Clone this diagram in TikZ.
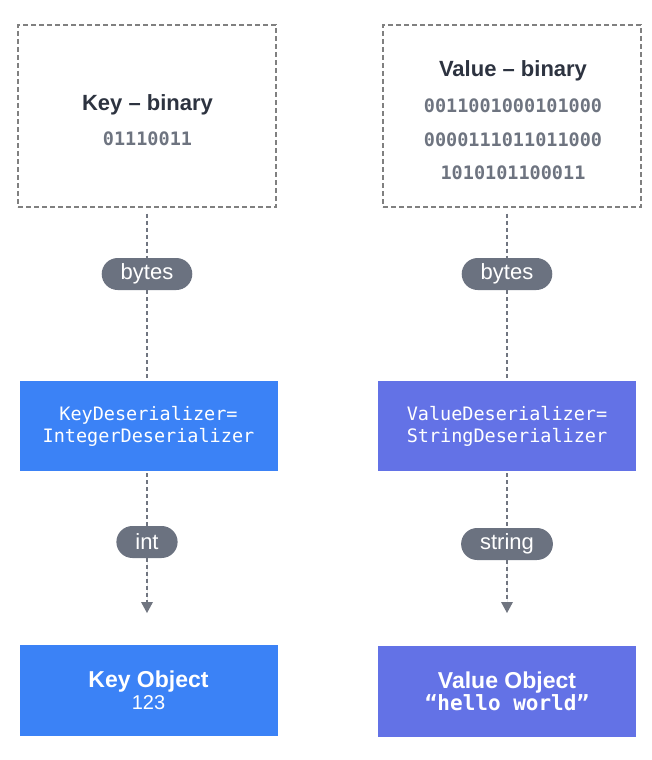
\documentclass[tikz,border=0pt]{standalone}
\usepackage{fontspec}
\setmainfont{Liberation Sans}
\setmonofont{DejaVu Sans Mono}
\usetikzlibrary{arrows.meta}

\definecolor{keyblue}{RGB}{59,130,246}
\definecolor{valpurple}{RGB}{99,114,230}
\definecolor{pillgray}{RGB}{107,114,128}
\definecolor{linegray}{RGB}{112,117,128}
\definecolor{boxgray}{RGB}{128,128,128}
\definecolor{inkdark}{RGB}{45,51,64}
\definecolor{inkgray}{RGB}{110,116,128}

\begin{document}
\begin{tikzpicture}[x=1pt,y=1pt,yscale=-1,
  binbox/.style={draw=boxgray,line width=1.2pt,dash pattern=on 5pt off 3pt,minimum width=258pt,minimum height=182pt,inner sep=0pt},
  desbox/.style={minimum width=258pt,minimum height=90pt,inner sep=0pt,text=white,align=center,font=\ttfamily\fontsize{18.5}{22}\selectfont},
  objbox/.style={minimum width=258pt,minimum height=91pt,inner sep=0pt,text=white,align=center,font=\fontsize{20}{22}\selectfont},
  pill/.style={fill=pillgray,text=white,rounded corners=16pt,minimum height=32pt,inner xsep=19pt,inner ysep=0pt,font=\fontsize{22}{26}\selectfont},
  flow/.style={draw=linegray,line width=1.2pt,dash pattern=on 4pt off 3pt},
  bintitle/.style={text=inkdark,font=\bfseries\fontsize{22}{26}\selectfont,inner sep=0pt,anchor=base},
  bindigits/.style={text=inkgray,font=\ttfamily\bfseries\fontsize{18.5}{22}\selectfont,inner sep=0pt,anchor=base}
]
\useasboundingbox (0,0) rectangle (652,760);

%Shape: dashed binary boxes
\node[binbox] (keybin) at (147,116) {};
\node[binbox] (valbin) at (512,116) {};

% Text Node
\node[bintitle] (keytitle) at (147.5,110) {Key – binary};
\node[bindigits] (keybits) at (147.5,145) {01110011};
% Text Node
\node[bintitle] (valtitle) at (513,77) {Value – binary};
\node[bindigits] (valbitsa) at (513,112) {0011001000101000};
\node[bindigits] (valbitsb) at (513,146) {0000111011011000};
\node[bindigits] (valbitsc) at (513,179) {1010101100011};

%Shape: pills
\node[pill] (keybytes) at (147,274) {bytes};
\node[pill] (valbytes) at (507,274) {bytes};

%Shape: deserializers
\node[desbox,fill=keyblue] (keydes) at (148.5,426) {KeyDeserializer=\\IntegerDeserializer};
\node[desbox,fill=valpurple] (valdes) at (507,426) {ValueDeserializer=\\StringDeserializer};

\node[pill] (keyint) at (147,542) {int};
\node[pill] (valstr) at (507,544) {string};

\coordinate (keytip) at (147,613);
\coordinate (valtip) at (507,613);

%Shape: objects
\node[objbox,fill=keyblue] (keyobj) at (148.5,690.5) {{\bfseries\fontsize{23}{26}\selectfont Key Object}\\123};
\node[objbox,fill=valpurple] (valobj) at (507,691) {{\bfseries\fontsize{23}{26}\selectfont Value Object}\\{\ttfamily\bfseries\fontsize{21}{22}\selectfont “hello world”}};

%Straight Lines
\draw[flow,shorten <=6pt] (keybin.south -| keybytes) -- (keybytes);
\draw[flow,shorten <=6pt] (valbin.south -| valbytes) -- (valbytes);
\draw[flow] (keybytes) -- (keybytes |- keydes.north);
\draw[flow] (valbytes) -- (valbytes |- valdes.north);
\draw[flow,shorten <=2pt] (keydes.south -| keyint) -- (keyint);
\draw[flow,shorten <=2pt] (valdes.south -| valstr) -- (valstr);
\draw[flow,-{Triangle[width=12pt,length=11pt,line width=0pt]},fill=linegray] (keyint) -- (keytip);
\draw[flow,-{Triangle[width=12pt,length=11pt,line width=0pt]},fill=linegray] (valstr) -- (valtip);

\end{tikzpicture}
\end{document}
